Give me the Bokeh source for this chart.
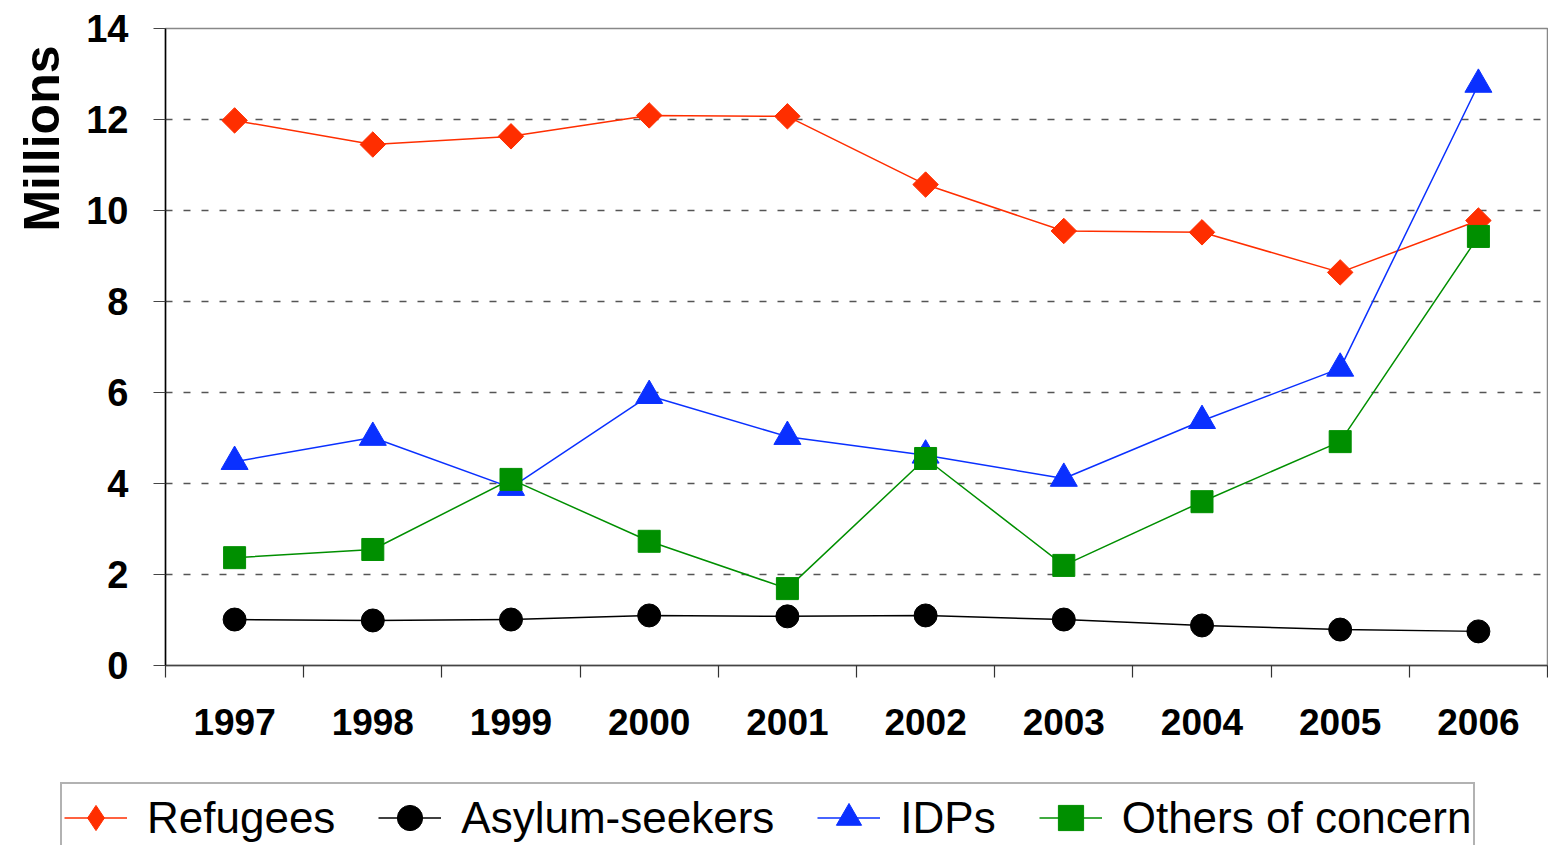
import math
from bokeh.plotting import figure
from bokeh.models import (FixedTicker, Legend, LegendItem, Title, Range1d)
from bokeh.embed import file_html
from bokeh.resources import INLINE

years = [1997, 1998, 1999, 2000, 2001, 2002, 2003, 2004, 2005, 2006]
refugees = [11.98, 11.45, 11.63, 12.09, 12.07, 10.57, 9.55, 9.52, 8.64, 9.78]
asylum = [1.01, 0.99, 1.01, 1.10, 1.08, 1.10, 1.01, 0.88, 0.79, 0.75]
idps = [4.48, 5.01, 3.91, 5.93, 5.03, 4.62, 4.11, 5.38, 6.53, 12.77]
others = [2.37, 2.55, 4.09, 2.73, 1.69, 4.55, 2.20, 3.60, 4.92, 9.43]
y_ticks = [0, 2, 4, 6, 8, 10, 12, 14]

RED = "#FF2E00"
BLUE = "#0A30FF"
GREEN = "#008F00"
BLACK = "#000000"
FONT = "Liberation Sans"

p = figure(width=1548, height=780, output_backend="svg", toolbar_location=None,
           x_range=Range1d(years[0] - 0.5, years[-1] + 0.5),
           y_range=Range1d(y_ticks[0], y_ticks[-1]),
           min_border_left=165, min_border_right=1, min_border_top=28,
           min_border_bottom=115)

p.outline_line_color = "#888888"
p.outline_line_width = 1.5

# axes
p.xaxis.ticker = FixedTicker(ticks=years, minor_ticks=[y - 0.5 for y in years] + [years[-1] + 0.5])
p.xaxis.major_tick_line_color = None
p.xaxis.major_tick_out = 0
p.xaxis.major_tick_in = 0
p.xaxis.minor_tick_out = 12
p.xaxis.minor_tick_in = 0
p.xaxis.minor_tick_line_color = "#333333"
p.xaxis.minor_tick_line_width = 1.2
p.xaxis.axis_line_color = "#444444"
p.xaxis.axis_line_width = 1.5
p.xaxis.major_label_text_font = FONT
p.xaxis.major_label_text_font_style = "bold"
p.xaxis.major_label_text_font_size = "37px"
p.xaxis.major_label_text_color = "black"
p.xaxis.major_label_standoff = 31

p.yaxis.ticker = FixedTicker(ticks=y_ticks)
p.yaxis.minor_tick_line_color = None
p.yaxis.major_tick_out = 12
p.yaxis.major_tick_in = 0
p.yaxis.major_tick_line_color = "#444444"
p.yaxis.major_tick_line_width = 1.2
p.yaxis.axis_line_color = "black"
p.yaxis.axis_line_width = 1.5
p.yaxis.major_label_text_font = FONT
p.yaxis.major_label_text_font_style = "bold"
p.yaxis.major_label_text_font_size = "38px"
p.yaxis.major_label_text_color = "black"
p.yaxis.major_label_standoff = 25

p.xgrid.grid_line_color = None
p.ygrid.grid_line_color = "#555555"
p.ygrid.grid_line_dash = "7 11"
p.ygrid.grid_line_width = 1.4

p.add_layout(Title(text="Millions", align="right", vertical_align="top",
                   offset=17, standoff=24,
                   text_font=FONT, text_font_style="bold",
                   text_font_size="50px", text_color="black"), "left")

# legend figure below (its own root, so frames are not aligned)
p2 = figure(width=1548, height=65, output_backend="svg", toolbar_location=None,
            x_range=Range1d(0, 1), y_range=Range1d(0, 1),
            x_axis_type=None, y_axis_type=None,
            min_border_left=0, min_border_right=0, min_border_top=0,
            min_border_bottom=0)
p2.outline_line_color = None
p2.xgrid.grid_line_color = None
p2.ygrid.grid_line_color = None

# series: name, values, colour, plot marker, size, angle, legend marker
items = []
series = [
    ("Refugees", refugees, RED, "square", 18, math.pi / 4, "diamond"),
    ("Asylum-seekers", asylum, BLACK, "circle", 23, 0, "circle"),
    ("IDPs", idps, BLUE, "triangle", 27, 0, "triangle"),
    ("Others of concern", others, GREEN, "square", 22, 0, "square"),
]
for name, vals, col, marker, size, ang, lmarker in series:
    p.line(years, vals, line_color=col, line_width=1.5)
    p.scatter(years, vals, marker=marker, size=size, angle=ang,
              fill_color=col, line_color=col)
    # same data in the legend strip; it lies outside that strip's range
    lr = p2.line(years, vals, line_color=col, line_width=1.5)
    sr = p2.scatter(years, vals, marker=lmarker, size=size,
                    fill_color=col, line_color=col)
    items.append(LegendItem(label=name, renderers=[lr, sr]))

legend = Legend(items=items, orientation="horizontal", location=(60, -8),
                glyph_width=63, glyph_height=63, label_height=63,
                label_text_font=FONT, label_text_font_size="44px",
                label_text_color="black", label_standoff=20, spacing=43,
                padding=2, margin=0, border_line_color="#666666",
                border_line_width=2, background_fill_color="white",
                background_fill_alpha=1)
p2.add_layout(legend, "center")

open("out.html", "w").write(file_html([p, p2], INLINE))
